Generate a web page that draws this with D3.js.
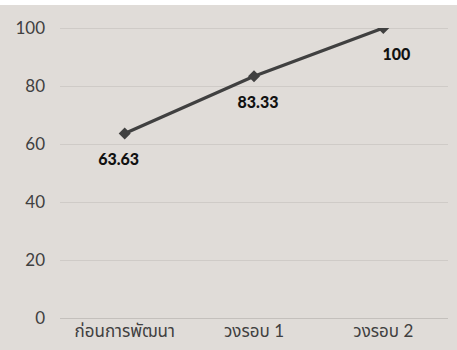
<!DOCTYPE html>
<html>
<head>
<meta charset="utf-8">
<script src="https://cdn.jsdelivr.net/npm/d3@7"></script>
<style>
  html, body { margin: 0; padding: 0; background: #ffffff; }
  svg { display: block; }
</style>
</head>
<body>
<svg id="chart" width="457" height="350"></svg>
<script>
// Assessment scores per round
const categories = ["ก่อนการพัฒนา", "วงรอบ 1", "วงรอบ 2"];
const scores = [63.63, 83.33, 100];
const scoreLabels = ["63.63", "83.33", "100"];
const yTicks = [0, 20, 40, 60, 80, 100];

const W = 457, H = 350;
const margin = { top: 28, right: 9, bottom: 32, left: 60 };
const fontFamily = "Lato, 'Noto Sans Thai', 'Noto Sans', sans-serif";

const svg = d3.select("#chart");

// panel background with a thin white band across the top
svg.append("rect").attr("x", 0).attr("y", 5).attr("width", W).attr("height", H - 5)
  .attr("fill", "#e0dcd8");

const x = d3.scaleBand().domain(categories)
  .range([margin.left, W - margin.right]);
const y = d3.scaleLinear().domain([0, 100])
  .range([H - margin.bottom, margin.top]);

// gridlines
svg.append("g").selectAll("line").data(yTicks).join("line")
  .attr("x1", margin.left).attr("x2", W - margin.right)
  .attr("y1", d => Math.round(y(d)) + 0.5).attr("y2", d => Math.round(y(d)) + 0.5)
  .attr("stroke", d => d === 0 ? "#c4c0bc" : "#cfcbc7").attr("stroke-width", 1);

// y axis labels
const yAxis = svg.append("g").attr("transform", `translate(${margin.left},0)`)
  .call(d3.axisLeft(y).tickValues(yTicks).tickSize(0).tickPadding(15));
yAxis.select(".domain").remove();
yAxis.selectAll("text").attr("font-family", fontFamily).attr("font-size", 17)
  .attr("fill", "#404040");

// x axis labels
const xAxis = svg.append("g").attr("transform", `translate(0,${H - margin.bottom})`)
  .call(d3.axisBottom(x).tickSize(0).tickPadding(7));
xAxis.select(".domain").remove();
xAxis.selectAll("text").attr("font-family", fontFamily).attr("font-size", 17)
  .attr("fill", "#404040");

// clip series to the plot region
svg.append("clipPath").attr("id", "plot-clip").append("rect")
  .attr("x", margin.left).attr("y", margin.top)
  .attr("width", W - margin.left - margin.right)
  .attr("height", H - margin.top - margin.bottom);

const cx = i => x(categories[i]) + x.bandwidth() / 2;
const series = svg.append("g").attr("clip-path", "url(#plot-clip)");

const line = d3.line().x((d, i) => cx(i)).y(d => y(d));
series.append("path").datum(scores)
  .attr("d", line).attr("fill", "none")
  .attr("stroke", "#404040").attr("stroke-width", 3.2);

series.selectAll("path.marker").data(scores).join("path")
  .attr("class", "marker")
  .attr("d", d3.symbol(d3.symbolSquare, 72))
  .attr("transform", (d, i) => `translate(${cx(i)},${y(d)}) rotate(45)`)
  .attr("fill", "#404040");

// value labels beneath each point
const labelNudge = [-6, 4, 13];
svg.append("g").selectAll("text").data(scores).join("text")
  .attr("x", (d, i) => cx(i) + labelNudge[i])
  .attr("y", d => y(d) + 32)
  .attr("text-anchor", "middle")
  .attr("font-family", fontFamily).attr("font-size", 16).attr("font-weight", 900)
  .attr("fill", "#111111")
  .text((d, i) => scoreLabels[i]);
</script>
</body>
</html>
